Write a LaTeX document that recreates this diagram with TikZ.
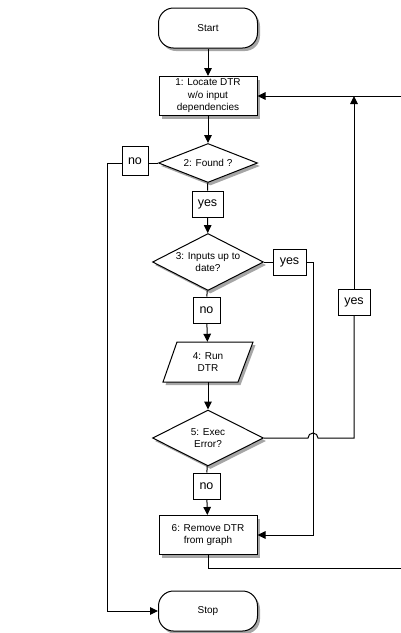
\documentclass[tikz,border=0pt]{standalone}
\usepackage{fontspec}
\setmainfont{Liberation Sans}
\usetikzlibrary{shapes.geometric,shadows,arrows.meta}
\begin{document}
\begin{tikzpicture}[x=1pt,y=-1pt,
  shad/.style={drop shadow={shadow xshift=2.5pt,shadow yshift=-3pt,fill=black,opacity=0.35}},
  term/.style={draw,line width=1pt,fill=white,rounded corners=15pt,minimum width=99pt,minimum height=40pt,font=\fontsize{10}{12}\selectfont,shad},
  proc/.style={draw,line width=1pt,fill=white,minimum width=98pt,minimum height=39pt,inner sep=1pt,align=center,font=\fontsize{10}{12.5}\selectfont,shad},
  decis/.style={draw,line width=1pt,fill=white,diamond,inner sep=0pt,shad},
  dtext/.style={align=center,font=\fontsize{10}{12.5}\selectfont,inner sep=0pt},
  lab/.style={draw,line width=1pt,fill=white,inner sep=0pt,minimum height=26pt,font=\fontsize{12.5}{14}\selectfont},
  conn/.style={line width=1pt},
  arr/.style={line width=1pt,-{Triangle[length=8pt,width=7.5pt]}}]
\useasboundingbox (0,0) rectangle (401,633);

% main column
\node[term] (start) at (208,28) {Start};
\node[proc] (b1) at (208,96) {1: Locate DTR\\w/o input\\dependencies};
\node[decis,minimum width=99pt,minimum height=39pt] (d2) at (208,163) {};
\node[dtext] at (d2) {2: Found ?};
\node[lab,minimum width=31pt] (yes2) at (207.5,204) {yes};
\node[decis,minimum width=111pt,minimum height=57pt] (d3) at (208,262) {};
\node[dtext] at (d3) {3: Inputs up to\\date?};
\node[lab,minimum width=27pt] (no3) at (206.5,310) {no};
\node[dtext,minimum width=76pt,minimum height=40pt] (p4) at (208,362) {4: Run\\DTR};
\node[decis,minimum width=111pt,minimum height=56pt] (d5) at (208,438) {};
\node[dtext] at (d5) {5: Exec\\Error?};
\node[lab,minimum width=27pt] (no5) at (206.5,486) {no};
\node[proc] (b6) at (208,535) {6: Remove DTR\\from graph};
\node[term] (stop) at (208,611) {Stop};

% parallelogram outline
\draw[line width=1pt,fill=white,shad] (177,342) -- (253,342) -- (238,382) -- (163,382) -- cycle;
\node[dtext] at (p4) {4: Run\\DTR};

% side labels
\node[lab,minimum width=26pt,minimum height=29pt] (no2) at (135,161) {no};
\node[lab,minimum width=33pt] (yes3) at (289.5,262) {yes};
\node[lab,minimum width=32pt] (yes5) at (354,302) {yes};

% coordinates
\coordinate (lft) at (107,163);
\coordinate (lftb) at (107,611);
\coordinate (j3a) at (313,262);
\coordinate (j3b) at (313,535);
\coordinate (fbup) at (354,96);
\coordinate (edge1) at (401,96);
\coordinate (b6d) at (208,568);
\coordinate (edge2) at (401,568);

% main flow connectors
\draw[arr] (start) -- (b1);
\draw[arr] (b1) -- (d2);
\draw[conn] (d2) -- (yes2);
\draw[arr] (yes2) -- (d3);
\draw[conn] (d3) -- (no3);
\draw[arr] (no3) -- (p4);
\draw[arr] (p4) -- (d5);
\draw[conn] (d5) -- (no5);
\draw[arr] (no5) -- (b6);

% no from 2 to stop
\draw[conn] (d2.west) -- (no2.east |- d2.west);
\draw[arr] (no2.west |- lft) -- (lft) -- (lftb) -- (stop.west);

% yes from 3 to 6
\draw[conn] (d3.east) -- (yes3.west);
\draw[arr] (yes3.east) -- (j3a) -- (j3b) -- (b6.east);

% yes from 5 back up
\draw[conn] (d5.east) -- (308,438) arc[start angle=180,end angle=0,radius=5pt] -- (354,438) -- (yes5.south);
\draw[arr] (yes5.north) -- (fbup);

% loop back lines
\draw[arr] (edge1) -- (b1.east);
\draw[conn] (b6.south) -- (b6d) -- (edge2);
\end{tikzpicture}
\end{document}
